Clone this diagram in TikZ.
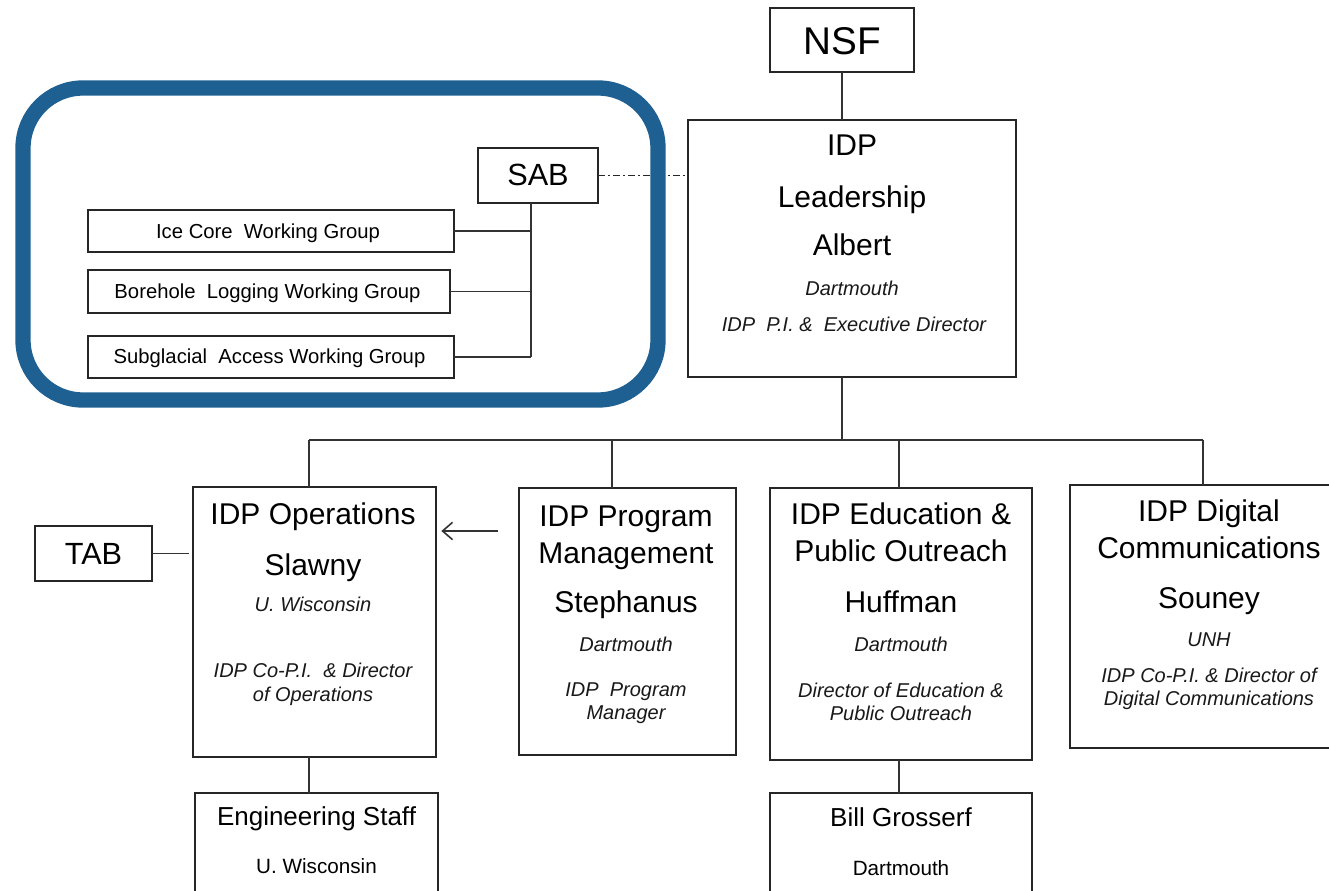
\documentclass[tikz,border=0pt]{standalone}
\usepackage{fontspec}
\setmainfont{Liberation Sans}
\usetikzlibrary{arrows.meta}
\definecolor{frameblue}{RGB}{30,96,145}
\newcommand{\Bx}[5]{\node[box, minimum width={(#4-#2)*0.75pt}, minimum height={(#5-#3)*0.75pt}] (#1) at ({(#2+#4)/2},{(#3+#5)/2}) {};}
\newcommand{\Tx}[5]{\node[txt,#4] (#1) at (#2,#3) {#5};}
\begin{document}
\begin{tikzpicture}[x=0.75pt,y=-0.75pt,
  box/.style={draw=black!85, line width=1.2pt, fill=white, inner sep=0pt, outer sep=0pt},
  txt/.style={anchor=base, inner sep=0pt, text=black},
  hugef/.style={font=\fontsize{29}{34}\selectfont},
  midf/.style={font=\fontsize{23}{27}\selectfont},
  bigf/.style={font=\fontsize{22.5}{27}\selectfont},
  subf/.style={font=\fontsize{19.5}{23}\selectfont},
  itf/.style={font=\fontsize{15}{18}\selectfont\itshape, text=black!90},
  smf/.style={font=\fontsize{15.5}{18}\selectfont},
  wgf/.style={font=\fontsize{15.2}{18}\selectfont},
  conn/.style={draw=black!80, line width=1.3pt},
  dashdot line/.style={draw=black!85, line width=1.3pt, dash pattern=on 5pt off 2.5pt on 1.3pt off 2.5pt}
]
\clip (0,0) rectangle (1329,891);
\fill[white] (0,0) rectangle (1329,891);

% boxes
\Bx{nsf}{770}{8}{914}{72}
\Bx{lead}{688}{120}{1016}{377}
\Bx{sab}{478}{148}{598}{203}
\Bx{wg1}{88}{210}{454}{252}
\Bx{wg2}{88}{270}{450}{313}
\Bx{wg3}{88}{336}{454}{378}
\Bx{tab}{35}{526}{152}{581}
\Bx{ops}{193}{487}{436}{757}
\Bx{pm}{519}{488}{736}{755}
\Bx{edu}{770}{488}{1032}{760}
\Bx{dig}{1070}{485}{1348}{748}
\Bx{eng}{195}{793}{438}{930}
\Bx{bill}{770}{793}{1032}{930}

% texts
\Tx{tnsf}{842}{55}{hugef}{NSF}
\Tx{tl1}{852}{156}{bigf}{IDP}
\Tx{tl2}{852}{208}{bigf}{Leadership}
\Tx{tl3}{852}{256}{bigf}{Albert}
\Tx{tl4}{852}{296}{itf}{Dartmouth}
\Tx{tl5}{854}{332}{itf}{IDP\ \ P.I. \&\ \ Executive Director}
\Tx{tsab}{538}{186}{midf}{SAB}
\Tx{tw1}{268}{239}{wgf}{Ice Core\ \ Working Group}
\Tx{tw2}{267.5}{299}{wgf}{Borehole\ \ Logging Working Group}
\Tx{tw3}{269.5}{364}{wgf}{Subglacial\ \ Access Working Group}
\Tx{ttab}{93.5}{564}{midf}{TAB}
\Tx{to1}{313}{524}{bigf}{IDP Operations}
\Tx{to2}{313}{575}{bigf}{Slawny}
\Tx{to3}{313}{611}{itf}{U. Wisconsin}
\Tx{to4}{313}{677}{itf}{IDP Co-P.I.\ \ \& Director}
\Tx{to5}{313}{701}{itf}{of Operations}
\Tx{tp1}{626}{526}{bigf}{IDP Program}
\Tx{tp2}{626}{563}{bigf}{Management}
\Tx{tp3}{626}{612}{bigf}{Stephanus}
\Tx{tp4}{626}{651}{itf}{Dartmouth}
\Tx{tp5}{626}{696}{itf}{IDP\ \ Program}
\Tx{tp6}{626}{719}{itf}{Manager}
\Tx{te1}{901}{524}{bigf}{IDP Education \&}
\Tx{te2}{901}{561}{bigf}{Public Outreach}
\Tx{te3}{901}{612}{bigf}{Huffman}
\Tx{te4}{901}{651}{itf}{Dartmouth}
\Tx{te5}{901}{697}{itf}{Director of Education \&}
\Tx{te6}{901}{720}{itf}{Public Outreach}
\Tx{td1}{1209}{521}{bigf}{IDP Digital}
\Tx{td2}{1209}{558}{bigf}{Communications}
\Tx{td3}{1209}{608}{bigf}{Souney}
\Tx{td4}{1209}{646}{itf}{UNH}
\Tx{td5}{1209}{682}{itf}{IDP Co-P.I. \& Director of}
\Tx{td6}{1209}{705}{itf}{Digital Communications}
\Tx{tg1}{316.5}{825}{subf}{Engineering Staff}
\Tx{tg2}{316.5}{873}{smf}{U. Wisconsin}
\Tx{tb1}{901}{826}{subf}{Bill Grosserf}
\Tx{tb2}{901}{875}{smf}{Dartmouth}

% connectors
\coordinate (bus) at (842,440);
\coordinate (b1) at (309,440);
\coordinate (b2) at (612,440);
\coordinate (b3) at (899,440);
\coordinate (b4) at (1203,440);
\coordinate (brk) at (531,203);
\coordinate (arrS) at (498,531);

\path[conn] (nsf.south) -- (nsf.south |- lead.north);
\path[conn] (bus |- lead.south) -- (bus);
\path[conn] (b1) -- (b4);
\path[conn] (b1) -- (b1 |- ops.north);
\path[conn] (b2) -- (b2 |- pm.north);
\path[conn] (b3) -- (b3 |- edu.north);
\path[conn] (b4) -- (b4 |- dig.north);
\path[conn] (b1 |- ops.south) -- (b1 |- eng.north);
\path[conn] (b3 |- edu.south) -- (b3 |- bill.north);
\path[conn] (tab.east) -- ([xshift=-3pt]ops.west |- tab.east);
\path[conn, -{Straight Barb[length=7.5pt,width=13pt,line width=1.2pt]}, shorten >=4pt] (arrS) -- (ops.east |- arrS);
\path[conn] (brk) -- (brk |- wg3.east);
\path[conn] (wg1.east) -- (brk |- wg1.east);
\path[conn] (wg2.east) -- (brk |- wg2.east);
\path[conn] (wg3.east) -- (brk |- wg3.east);
\path[dashdot line] (sab.east) -- (lead.west |- sab.east);

% blue frame
\draw[frameblue, line width=11.5pt, rounded corners=45pt] (23,88) rectangle (658,400);
\end{tikzpicture}
\end{document}
